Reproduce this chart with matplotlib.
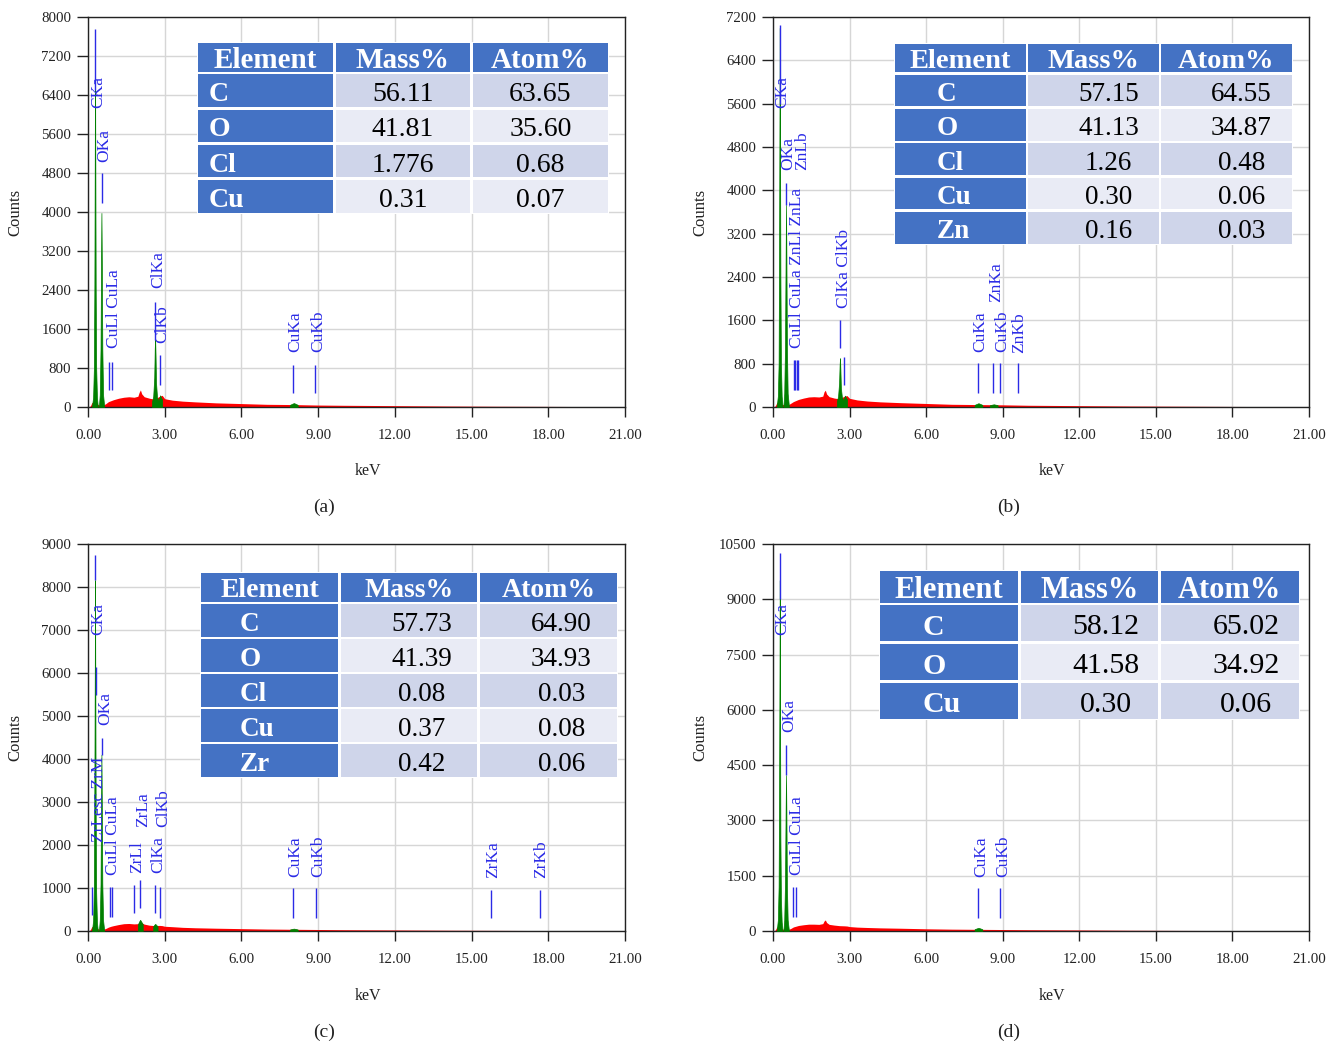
import matplotlib
matplotlib.use("Agg")
import matplotlib.pyplot as plt
from matplotlib.patches import Rectangle
from matplotlib.ticker import FormatStrFormatter, MultipleLocator

plt.rcParams['font.family'] = ['Liberation Serif', 'DejaVu Serif']

# ---------------- data ----------------
x_ticks = [0, 3, 6, 9, 12, 15, 18, 21]

bg_keV = [0.05, 0.10, 0.15, 0.20, 0.35, 0.45, 0.60, 0.70, 0.80, 0.90, 1.00, 1.20, 1.40, 1.60,
          1.80, 1.95, 2.00, 2.05, 2.10, 2.20, 2.40, 2.60, 2.80, 2.90, 3.00, 3.30, 3.70, 4.20,
          5.00, 6.00, 7.00, 8.00, 9.00, 10.0, 12.0, 14.0, 16.0, 18.0, 20.0, 21.0]

# panel (a)
a_bg = [0, 30, 90, 100, 60, 40, 40, 70, 110, 130, 150, 180, 200, 210, 200, 220, 300, 350, 270, 210,
        180, 160, 220, 240, 170, 140, 120, 105, 85, 70, 55, 50, 40, 35, 28, 20, 15, 12, 8, 5]
a_peaks = [
    ([0.16, 0.20, 0.23, 0.25, 0.265, 0.275, 0.285, 0.30, 0.32, 0.35, 0.38],
     [30, 200, 800, 2500, 5300, 7300, 5300, 2500, 800, 200, 30]),
    ([0.43, 0.46, 0.49, 0.51, 0.525, 0.54, 0.56, 0.59, 0.63],
     [30, 250, 1200, 3000, 3980, 3000, 1200, 250, 30]),
    ([2.50, 2.55, 2.59, 2.61, 2.625, 2.64, 2.66, 2.70, 2.76],
     [100, 220, 600, 1200, 1400, 1100, 500, 200, 120]),
    ([2.76, 2.80, 2.82, 2.86, 2.90], [130, 200, 240, 190, 150]),
    ([7.90, 8.00, 8.05, 8.10, 8.20], [45, 70, 80, 70, 45]),
]
a_line_keV = [0.28, 0.54, 0.83, 0.93, 2.63, 2.82, 8.03, 8.88]
a_line_lo = [6500, 4180, 350, 350, 1370, 450, 290, 290]
a_line_hi = [7750, 4800, 920, 920, 2150, 1070, 860, 860]
a_lbl_text = ["CKa", "OKa", "CuLl CuLa", "ClKa", "ClKb", "CuKa", "CuKb"]
a_lbl_keV = [0.39, 0.65, 1.01, 2.75, 2.91, 8.12, 9.00]
a_lbl_counts = [6130, 5020, 1210, 2440, 1310, 1130, 1130]
a_elements = ["C", "O", "Cl", "Cu"]
a_mass = ["56.11", "41.81", "1.776", "0.31"]
a_atom = ["63.65", "35.60", "0.68", "0.07"]

# panel (b)
b_bg = [0, 30, 80, 90, 50, 40, 40, 70, 100, 120, 140, 165, 185, 190, 185, 200, 280, 310, 240, 190,
        165, 150, 200, 210, 160, 130, 110, 95, 80, 65, 50, 45, 40, 32, 25, 18, 14, 10, 7, 5]
b_peaks = [
    ([0.15, 0.19, 0.22, 0.24, 0.255, 0.265, 0.275, 0.29, 0.31, 0.34, 0.37],
     [30, 200, 800, 3100, 5500, 7000, 5000, 2400, 800, 200, 30]),
    ([0.41, 0.44, 0.47, 0.495, 0.51, 0.525, 0.545, 0.575, 0.62],
     [30, 250, 1100, 2800, 3730, 2800, 1100, 250, 30]),
    ([2.50, 2.55, 2.59, 2.61, 2.625, 2.64, 2.66, 2.70, 2.76],
     [100, 200, 450, 780, 900, 700, 350, 180, 120]),
    ([2.76, 2.80, 2.82, 2.86, 2.90], [120, 180, 210, 170, 140]),
    ([7.90, 8.00, 8.05, 8.10, 8.20], [40, 60, 70, 60, 40]),
    ([8.50, 8.60, 8.65, 8.70, 8.80], [35, 45, 50, 45, 35]),
]
b_line_keV = [0.26, 0.52, 0.82, 0.87, 0.93, 0.99, 2.61, 2.79, 8.04, 8.63, 8.91, 9.58]
b_line_lo = [5600, 3730, 315, 315, 315, 315, 1090, 400, 260, 260, 260, 260]
b_line_hi = [7050, 4140, 870, 870, 870, 870, 1610, 920, 810, 810, 810, 810]
b_lbl_text = ["CKa", "OKa", "ZnLb", "CuLl CuLa ZnLl ZnLa", "ClKa ClKb", "CuKa", "ZnKa", "CuKb", "ZnKb"]
b_lbl_keV = [0.38, 0.61, 1.14, 0.95, 2.78, 8.12, 8.75, 9.00, 9.65]
b_lbl_counts = [5520, 4370, 4370, 1090, 1830, 1020, 1940, 1020, 1000]
b_elements = ["C", "O", "Cl", "Cu", "Zn"]
b_mass = ["57.15", "41.13", "1.26", "0.30", "0.16"]
b_atom = ["64.55", "34.87", "0.48", "0.06", "0.03"]

# panel (c)
c_bg = [0, 40, 100, 110, 60, 40, 40, 60, 90, 110, 125, 150, 170, 175, 165, 170, 200, 210, 190, 160,
        135, 125, 130, 125, 110, 100, 85, 75, 65, 55, 45, 40, 35, 30, 24, 18, 14, 10, 8, 5]
c_peaks = [
    ([0.16, 0.20, 0.23, 0.25, 0.265, 0.275, 0.285, 0.30, 0.32, 0.35, 0.38],
     [30, 250, 1000, 3500, 6100, 8160, 6000, 2800, 900, 200, 30]),
    ([0.43, 0.46, 0.49, 0.51, 0.525, 0.54, 0.56, 0.59, 0.63],
     [30, 250, 1100, 3000, 4100, 3000, 1100, 250, 30]),
    ([1.95, 2.00, 2.04, 2.08, 2.14], [150, 220, 260, 220, 160]),
    ([2.55, 2.60, 2.63, 2.67, 2.72], [110, 150, 165, 140, 110]),
    ([7.90, 8.00, 8.05, 8.10, 8.20], [35, 50, 55, 50, 35]),
]
c_line_keV = [0.29, 0.30, 0.53, 0.17, 0.86, 0.94, 1.81, 2.04, 2.63, 2.82, 8.03, 8.92, 15.77, 17.67]
c_line_lo = [8160, 5490, 4100, 370, 330, 330, 420, 535, 420, 300, 300, 300, 300, 300]
c_line_hi = [8745, 6150, 4490, 1030, 1030, 1030, 1070, 1190, 1070, 1030, 1000, 1000, 960, 960]
c_lbl_text = ["CKa", "OKa", "ZrLesc ZrM", "CuLl CuLa", "ZrLl", "ZrLa", "ClKa", "ClKb",
              "CuKa", "CuKb", "ZrKa", "ZrKb"]
c_lbl_keV = [0.39, 0.66, 0.42, 0.99, 1.91, 2.15, 2.75, 2.93, 8.12, 9.00, 15.86, 17.73]
c_lbl_counts = [6885, 4790, 2075, 1300, 1350, 2425, 1350, 2425, 1260, 1260, 1230, 1230]
c_elements = ["C", "O", "Cl", "Cu", "Zr"]
c_mass = ["57.73", "41.39", "0.08", "0.37", "0.42"]
c_atom = ["64.90", "34.93", "0.03", "0.08", "0.06"]

# panel (d)
d_bg = [0, 40, 110, 120, 60, 40, 40, 70, 110, 130, 150, 170, 185, 185, 180, 200, 270, 300, 230, 180,
        160, 145, 140, 135, 120, 105, 95, 85, 75, 60, 50, 45, 40, 35, 28, 20, 15, 12, 8, 5]
d_peaks = [
    ([0.15, 0.19, 0.22, 0.24, 0.255, 0.265, 0.275, 0.29, 0.31, 0.34, 0.37],
     [30, 300, 1200, 4000, 7000, 9520, 6300, 2500, 900, 250, 30]),
    ([0.41, 0.44, 0.47, 0.495, 0.51, 0.525, 0.545, 0.575, 0.62],
     [30, 300, 1300, 3300, 4230, 3200, 1200, 300, 30]),
    ([7.90, 8.00, 8.05, 8.10, 8.20], [50, 75, 85, 75, 50]),
]
d_line_keV = [0.26, 0.51, 0.80, 0.90, 8.04, 8.91]
d_line_lo = [9000, 4230, 390, 390, 350, 350]
d_line_hi = [10260, 5050, 1200, 1200, 1170, 1170]
d_lbl_text = ["CKa", "OKa", "CuLl CuLa", "CuKa", "CuKb"]
d_lbl_keV = [0.35, 0.63, 0.94, 8.14, 9.01]
d_lbl_counts = [8030, 5400, 1520, 1470, 1470]
d_elements = ["C", "O", "Cu"]
d_mass = ["58.12", "41.58", "0.30"]
d_atom = ["65.02", "34.92", "0.06"]

col_headers = ["Element", "Mass%", "Atom%"]

# ---------------- figure ----------------
W, H = 1341, 1048
fig = plt.figure(figsize=(W / 100, H / 100), dpi=100)


def fx(px):
    return px / W


def fy(py):
    return 1 - py / H


RED = '#FF0000'
GREEN = '#008000'
BLUE = '#2B2BE6'
HEAD = '#4472C4'
ROW1 = '#CFD5EA'
ROW2 = '#E9EBF5'


def draw_table(box, elements, mass, atom, el_pad, num_shift, fs_head, fs_el, fs_num):
    left, top, right, bottom = box
    n = len(elements)
    row_h = (bottom - top) / (n + 0.88)
    head_h = 0.88 * row_h
    g = 1.3
    colw = (right - left) / 3
    fig.add_artist(Rectangle((fx(left), fy(bottom)), (right - left) / W, (bottom - top) / H,
                             transform=fig.transFigure, facecolor='white', edgecolor='none', zorder=5))
    # header
    for j in range(3):
        x0 = left + j * colw + g
        fig.add_artist(Rectangle((fx(x0), fy(top + head_h - g)), (colw - 2 * g) / W, (head_h - 2 * g) / H,
                                 transform=fig.transFigure, facecolor=HEAD, edgecolor='none', zorder=6))
        fig.text(fx(left + (j + 0.5) * colw), fy(top + head_h / 2), col_headers[j], color='white',
                 fontsize=fs_head, fontweight='bold', ha='center', va='center_baseline', zorder=7)
    for i in range(n):
        y0 = top + head_h + i * row_h
        cells = [elements[i], mass[i], atom[i]]
        for j in range(3):
            x0 = left + j * colw + g
            fc = HEAD if j == 0 else (ROW1 if i % 2 == 0 else ROW2)
            fig.add_artist(Rectangle((fx(x0), fy(y0 + row_h - g)), (colw - 2 * g) / W, (row_h - 2 * g) / H,
                                     transform=fig.transFigure, facecolor=fc, edgecolor='none', zorder=6))
            yc = fy(y0 + row_h / 2 + 1)
            if j == 0:
                fig.text(fx(left + el_pad), yc, cells[j], color='white', fontsize=fs_el,
                         fontweight='bold', ha='left', va='center_baseline', zorder=7)
            else:
                fig.text(fx(left + (j + 0.5) * colw + num_shift), yc, cells[j], color='black',
                         fontsize=fs_num, ha='center', va='center_baseline', zorder=7)


panels = [
    dict(rect=(88, 17, 625, 407), ymax=8000, ystep=800, bg=a_bg, peaks=a_peaks,
         lk=a_line_keV, llo=a_line_lo, lhi=a_line_hi, tt=a_lbl_text, tk=a_lbl_keV, tc=a_lbl_counts,
         table=((197, 42, 609, 214), a_elements, a_mass, a_atom, 12, 0, 21, 20, 20),
         kev=(368, 471), tag=("(a)", 324, 507)),
    dict(rect=(773, 17, 1309, 407), ymax=7200, ystep=800, bg=b_bg, peaks=b_peaks,
         lk=b_line_keV, llo=b_line_lo, lhi=b_line_hi, tt=b_lbl_text, tk=b_lbl_keV, tc=b_lbl_counts,
         table=((894, 43, 1293, 245), b_elements, b_mass, b_atom, 43, 15, 20.5, 19.5, 19.5),
         kev=(1052, 471), tag=("(b)", 1009, 507)),
    dict(rect=(88, 544, 625, 931), ymax=9000, ystep=1000, bg=c_bg, peaks=c_peaks,
         lk=c_line_keV, llo=c_line_lo, lhi=c_line_hi, tt=c_lbl_text, tk=c_lbl_keV, tc=c_lbl_counts,
         table=((200, 572, 618, 778), c_elements, c_mass, c_atom, 40, 13, 20, 19.5, 19.5),
         kev=(368, 996), tag=("(c)", 324, 1032)),
    dict(rect=(773, 544, 1309, 931), ymax=10500, ystep=1500, bg=d_bg, peaks=d_peaks,
         lk=d_line_keV, llo=d_line_lo, lhi=d_line_hi, tt=d_lbl_text, tk=d_lbl_keV, tc=d_lbl_counts,
         table=((879, 570, 1300, 720), d_elements, d_mass, d_atom, 44, 16, 22, 21.5, 21.5),
         kev=(1052, 996), tag=("(d)", 1009, 1032)),
]

for p in panels:
    l, t, r, b = p['rect']
    ax = fig.add_axes([fx(l), fy(b), (r - l) / W, (b - t) / H])
    ax.set_xlim(0, 21)
    ax.set_ylim(0, p['ymax'])
    ax.set_xticks(x_ticks)
    ax.xaxis.set_major_formatter(FormatStrFormatter('%.2f'))
    ax.yaxis.set_major_locator(MultipleLocator(p['ystep']))
    ax.grid(True, color='#D6D6D6', lw=1.0)
    ax.set_axisbelow(True)
    for s in ax.spines.values():
        s.set_color('#222222')
        s.set_linewidth(1.0)
    ax.tick_params(axis='y', direction='out', length=8, width=1, labelsize=10.7, pad=4,
                   color='#222222', labelcolor='#222222')
    ax.tick_params(axis='x', direction='out', length=7, width=1, labelsize=10.7, pad=9,
                   color='#222222', labelcolor='#222222')
    ax.fill_between(bg_keV, 0, p['bg'], color=RED, lw=0, zorder=2)
    for ek, ck in p['peaks']:
        ax.fill_between(ek, 0, ck, facecolor=GREEN, edgecolor=GREEN, lw=0.5, zorder=3)
    ax.vlines(p['lk'], p['llo'], p['lhi'], color=BLUE, lw=1.0, zorder=4)
    for txt, k, c in zip(p['tt'], p['tk'], p['tc']):
        ax.text(k, c, txt, rotation=90, ha='center', va='bottom', color=BLUE, fontsize=12.5, zorder=5)
    ax.set_ylabel('Counts', fontsize=12, color='#222222')
    ax.yaxis.set_label_coords(fx(16) , 0.5, transform=fig.transFigure) if False else None
    fig.text(fx(l - 73), fy((t + b) / 2), 'Counts', rotation=90, ha='center', va='center',
             fontsize=12, color='#222222')
    ax.set_ylabel('')
    fig.text(fx(p['kev'][0]), fy(p['kev'][1]), 'keV', ha='center', va='center', fontsize=11.5,
             color='#222222')
    tg = p['tag']
    fig.text(fx(tg[1]), fy(tg[2]), tg[0], ha='center', va='center', fontsize=14, color='#222222')
    draw_table(*p['table'])

fig.savefig('out.png', dpi=100, facecolor='white')
